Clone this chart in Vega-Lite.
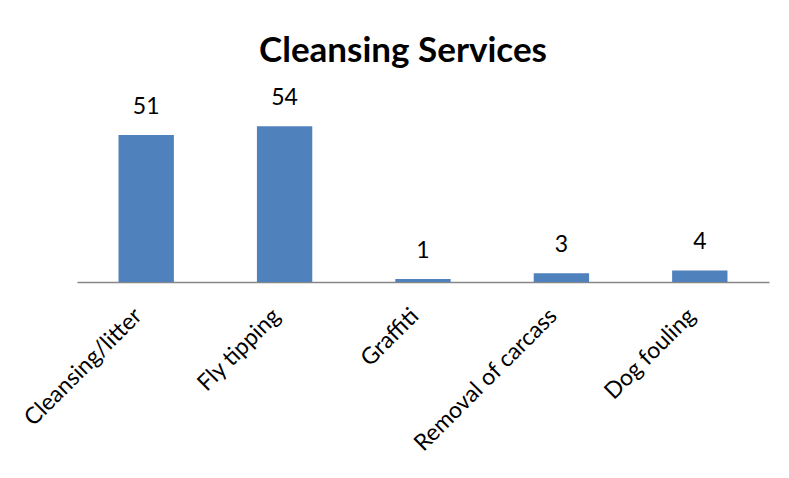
{
  "$schema": "https://vega.github.io/schema/vega-lite/v6.json",
  "autosize": "none",
  "width": 692,
  "height": 173,
  "padding": {"left": 77, "top": 109, "right": 20, "bottom": 196},
  "background": "white",
  "config": {"view": {"stroke": null}, "font": "Lato"},
  "title": {
    "text": "Cleansing Services",
    "font": "Lato",
    "fontSize": 35,
    "fontWeight": "bold",
    "color": "black",
    "anchor": "middle",
    "dx": -20,
    "offset": 18
  },
  "data": {
    "values": [
      {"category": "Cleansing/litter", "count": 51},
      {"category": "Fly tipping", "count": 54},
      {"category": "Graffiti", "count": 1},
      {"category": "Removal of carcass", "count": 3},
      {"category": "Dog fouling", "count": 4}
    ]
  },
  "encoding": {
    "x": {
      "field": "category",
      "type": "nominal",
      "sort": null,
      "scale": {"paddingInner": 0.6, "paddingOuter": 0.3},
      "axis": {
        "title": null,
        "labelAngle": -45,
        "labelAlign": "right",
        "labelBaseline": "middle",
        "labelFontSize": 23,
        "labelColor": "black",
        "labelFont": "Lato",
        "labelLimit": 0,
        "labelOffset": -8,
        "ticks": false,
        "domainColor": "#868686",
        "domainWidth": 1.5,
        "labelPadding": 30
      }
    },
    "y": {
      "field": "count",
      "type": "quantitative",
      "scale": {"domain": [0, 60]},
      "axis": null
    }
  },
  "layer": [
    {"mark": {"type": "bar", "color": "#4F81BD"}},
    {
      "mark": {"type": "text", "dy": -28, "fontSize": 23, "color": "black", "font": "Lato"},
      "encoding": {"text": {"field": "count", "type": "quantitative"}}
    }
  ]
}
